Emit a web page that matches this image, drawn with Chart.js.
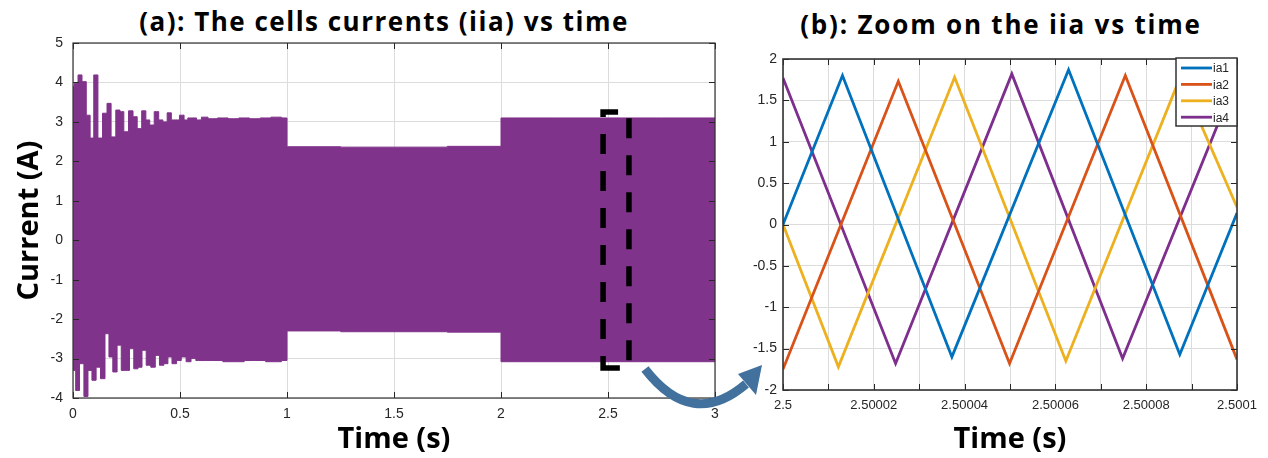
<!DOCTYPE html>
<html>
<head>
<meta charset="utf-8">
<script src="https://cdn.jsdelivr.net/npm/chart.js@4.4.1/dist/chart.umd.min.js"></script>
<style>
  body { margin: 0; background: #fff; width: 1268px; height: 458px; overflow: hidden; position: relative; }
  .title { position: absolute; font-family: "Open Sans", sans-serif; font-weight: 700; font-size: 26px; color: #000; white-space: nowrap; transform: translateX(-50%); }
  #wrapA { position: absolute; left: 0; top: 0; }
  #wrapB { position: absolute; left: 740px; top: 0; }
  #arrow { position: absolute; left: 0; top: 0; pointer-events: none; }
</style>
</head>
<body>
<div class="title" style="left:384px; top:3px; letter-spacing:1.5px">(a): The cells currents (iia) vs time</div>
<div class="title" style="left:1001px; top:6px; letter-spacing:1.8px">(b): Zoom on the iia vs time</div>
<div id="wrapA"><canvas id="chartA" width="740" height="458"></canvas></div>
<div id="wrapB"><canvas id="chartB" width="528" height="458"></canvas></div>
<svg id="arrow" width="1268" height="458">
  <path d="M 645 369 Q 692 430 746 384" fill="none" stroke="#41719c" stroke-width="9"/>
  <polygon points="762,365 738,374 756,395" fill="#41719c"/>
</svg>

<script>
// ---------- panel (a): envelope of the cell currents over 0..3 s ----------
var upperT = [0, 0.014, 0.033, 0.051, 0.073, 0.087, 0.107, 0.126, 0.150, 0.168, 0.188, 0.212, 0.227, 0.248,
  0.271, 0.290, 0.310, 0.332, 0.349, 0.368, 0.391, 0.410, 0.430, 0.450, 0.469, 0.487, 0.508, 0.530, 0.543,
  0.566, 0.588, 0.612, 0.650, 0.700, 0.750, 0.800, 0.850, 0.900, 0.950, 0.998, 1.002, 1.5, 1.998, 2.002, 2.5, 3.0];
var upperI = [3.90, 3.98, 4.19, 4.02, 3.17, 2.59, 4.19, 2.59, 3.22, 3.47, 2.62, 3.30, 3.26, 2.75,
  3.28, 3.13, 2.83, 3.28, 3.05, 2.92, 3.26, 3.05, 3.00, 3.23, 3.05, 3.05, 3.17, 3.05, 3.10,
  3.10, 3.05, 3.12, 3.08, 3.10, 3.08, 3.10, 3.08, 3.10, 3.12, 3.10, 2.37, 2.36, 2.38, 3.10, 3.10, 3.10];

var lowerT = [0, 0.005, 0.020, 0.041, 0.061, 0.079, 0.098, 0.118, 0.139, 0.160, 0.176, 0.196, 0.216, 0.235,
  0.254, 0.274, 0.294, 0.313, 0.332, 0.352, 0.375, 0.394, 0.414, 0.435, 0.452, 0.473, 0.495, 0.517, 0.540,
  0.563, 0.585, 0.650, 0.750, 0.850, 0.950, 0.998, 1.002, 1.5, 1.998, 2.002, 2.5, 3.0];
var lowerI = [-3.25, -3.30, -3.81, -3.13, -3.96, -3.30, -3.55, -3.22, -3.51, -2.37, -2.96, -3.34, -2.66, -3.30,
  -3.30, -2.75, -3.26, -3.22, -2.79, -3.17, -3.22, -2.92, -3.17, -3.13, -2.96, -3.13, -3.05, -2.96, -3.08,
  -3.00, -3.05, -3.05, -3.08, -3.05, -3.08, -3.05, -2.30, -2.32, -2.33, -3.08, -3.08, -3.08];

var xTickLabelsA = ['0', '0.5', '1', '1.5', '2', '2.5', '3'];
var yTickLabelsA = ['-4', '-3', '-2', '-1', '0', '1', '2', '3', '4', '5'];

// dashed window around the zoomed interval [t0, t1, iLow, iHigh]
var zoomWindow = [2.477, 2.598, -3.24, 3.25];

// ---------- panel (b): zoom, time in microseconds after 2.5 s ----------
var ia1T = [0, 13.1, 37.2, 62.9, 87.4, 100];
var ia1 = [0, 1.80, -1.60, 1.87, -1.57, 0.14];
var ia2T = [0, 25.4, 49.9, 75.4, 100];
var ia2 = [-1.75, 1.73, -1.68, 1.80, -1.63];
var ia3T = [0, 12.2, 37.8, 62.3, 87.5, 100];
var ia3 = [0, -1.72, 1.78, -1.65, 1.78, 0.21];
var ia4T = [0, 24.8, 50.4, 74.8, 100];
var ia4 = [1.77, -1.68, 1.82, -1.62, 1.78];

var seriesNames = ['ia1', 'ia2', 'ia3', 'ia4'];
var seriesColors = ['#0072bd', '#d95319', '#edb120', '#7e2f8e'];

var xTickLabelsB = ['2.5', '', '2.50002', '', '2.50004', '', '2.50006', '', '2.50008', '', '2.5001'];
var yTickLabelsB = ['-2', '-1.5', '-1', '-0.5', '0', '0.5', '1', '1.5', '2'];

function toPoints(xs, ys) {
  return xs.map(function(x, i) { return { x: x, y: ys[i] }; });
}

// frame around the plot area plus inward tick marks (MATLAB look)
var boxTicks = {
  id: 'boxTicks',
  afterDraw: function(chart, args, opts) {
    var ctx = chart.ctx, a = chart.chartArea, x = chart.scales.x, y = chart.scales.y;
    ctx.save();
    ctx.strokeStyle = '#262626';
    ctx.lineWidth = 1;
    ctx.beginPath();
    x.ticks.forEach(function(t) {
      var px = Math.round(x.getPixelForValue(t.value)) + 0.5;
      ctx.moveTo(px, a.top); ctx.lineTo(px, a.top + opts.len);
      ctx.moveTo(px, a.bottom); ctx.lineTo(px, a.bottom - opts.len);
    });
    y.ticks.forEach(function(t) {
      var py = Math.round(y.getPixelForValue(t.value)) + 0.5;
      ctx.moveTo(a.left, py); ctx.lineTo(a.left + opts.len, py);
      ctx.moveTo(a.right, py); ctx.lineTo(a.right - opts.len, py);
    });
    ctx.stroke();
    ctx.lineWidth = opts.frame;
    ctx.strokeStyle = '#333';
    ctx.strokeRect(a.left, a.top, a.width, a.height);
    ctx.restore();
  }
};

// black dashed window on panel (a)
var zoomBox = {
  id: 'zoomBox',
  afterDraw: function(chart) {
    var ctx = chart.ctx, x = chart.scales.x, y = chart.scales.y;
    var l = x.getPixelForValue(zoomWindow[0]), r = x.getPixelForValue(zoomWindow[1]);
    var b = y.getPixelForValue(zoomWindow[2]), t = y.getPixelForValue(zoomWindow[3]);
    ctx.save();
    ctx.strokeStyle = '#000';
    ctx.lineWidth = 5.5;
    ctx.setLineDash([20, 17]);
    ctx.lineDashOffset = 8;
    ctx.beginPath();
    ctx.moveTo(l, b);
    ctx.lineTo(l, t);
    ctx.lineTo(r, t);
    ctx.lineTo(r, b);
    ctx.closePath();
    ctx.stroke();
    ctx.restore();
  }
};

// legend box in the top right corner of panel (b)
var cornerLegend = {
  id: 'cornerLegend',
  afterDraw: function(chart) {
    var ctx = chart.ctx, a = chart.chartArea;
    var w = 61, h = 68, x0 = a.right - w, y0 = a.top - 1;
    ctx.save();
    ctx.fillStyle = '#fff';
    ctx.fillRect(x0, y0, w, h);
    ctx.strokeStyle = '#333';
    ctx.lineWidth = 1.5;
    ctx.strokeRect(x0, y0, w, h);
    ctx.font = '12px "Liberation Sans", Arial, sans-serif';
    ctx.textBaseline = 'middle';
    chart.data.datasets.forEach(function(ds, i) {
      var yy = y0 + 10 + i * 16.4;
      ctx.strokeStyle = ds.borderColor;
      ctx.lineWidth = 2.8;
      ctx.beginPath();
      ctx.moveTo(x0 + 5, yy); ctx.lineTo(x0 + 36, yy);
      ctx.stroke();
      ctx.fillStyle = '#262626';
      ctx.fillText(ds.label, x0 + 37, yy + 1);
    });
    ctx.restore();
  }
};

var tickFamily = '"Liberation Sans", Arial, sans-serif';
var axisTitleFont = { family: '"Open Sans", sans-serif', size: 29, weight: '700' };
var bandColor = '#80338b';

new Chart(document.getElementById('chartA'), {
  type: 'line',
  data: {
    datasets: [{
      label: 'upper',
      data: toPoints(upperT, upperI),
      stepped: 'middle',
      borderColor: bandColor,
      borderWidth: 1,
      backgroundColor: bandColor,
      fill: 'origin',
      pointRadius: 0
    }, {
      label: 'lower',
      data: toPoints(lowerT, lowerI),
      stepped: 'middle',
      borderColor: bandColor,
      borderWidth: 1,
      backgroundColor: bandColor,
      fill: { value: 0.08 },
      pointRadius: 0
    }]
  },
  options: {
    responsive: false,
    animation: false,
    layout: { padding: { top: 43, right: 25, left: 0, bottom: 0 } },
    plugins: { legend: { display: false }, tooltip: { enabled: false }, boxTicks: { len: 6, frame: 1.2 } },
    scales: {
      x: {
        type: 'linear', min: 0, max: 3,
        afterFit: function(s) { s.height = 60; },
        grid: { color: '#dcdcdc', drawTicks: false },
        border: { display: false },
        ticks: { stepSize: 0.5, padding: 8, color: '#262626', font: { family: tickFamily, size: 14 }, maxRotation: 0, autoSkip: false,
          callback: function(v, i) { return xTickLabelsA[i]; } },
        title: { display: true, text: 'Time (s)', color: '#000', font: axisTitleFont, padding: { top: 0, bottom: 1 } }
      },
      y: {
        min: -4, max: 5,
        afterFit: function(s) { s.width = 73; },
        grid: { color: '#dcdcdc', drawTicks: false },
        border: { display: false },
        ticks: { stepSize: 1, padding: 10, color: '#262626', font: { family: tickFamily, size: 14 },
          callback: function(v, i) { return yTickLabelsA[i]; } },
        title: { display: true, text: 'Current (A)', color: '#000', font: axisTitleFont, padding: { top: 12, bottom: 0 } }
      }
    }
  },
  plugins: [boxTicks, zoomBox]
});

var zoomSets = [[ia1T, ia1], [ia2T, ia2], [ia3T, ia3], [ia4T, ia4]].map(function(s, i) {
  return {
    label: seriesNames[i],
    data: toPoints(s[0], s[1]),
    borderColor: seriesColors[i],
    borderWidth: 2.8,
    pointRadius: 0,
    fill: false,
    tension: 0
  };
});

new Chart(document.getElementById('chartB'), {
  type: 'line',
  data: { datasets: zoomSets },
  options: {
    responsive: false,
    animation: false,
    layout: { padding: { top: 59, right: 31, left: 0, bottom: 0 } },
    plugins: { legend: { display: false }, tooltip: { enabled: false }, boxTicks: { len: 6, frame: 1.6 } },
    scales: {
      x: {
        type: 'linear', min: 0, max: 100,
        afterFit: function(s) { s.height = 68; },
        grid: { color: '#dcdcdc', drawTicks: false },
        border: { display: false },
        ticks: { stepSize: 10, padding: 8, color: '#262626', font: { family: tickFamily, size: 13 }, maxRotation: 0, autoSkip: false,
          callback: function(v, i) { return xTickLabelsB[i]; } },
        title: { display: true, text: 'Time (s)', color: '#000', font: axisTitleFont, padding: { top: 0, bottom: 1 } }
      },
      y: {
        min: -2, max: 2,
        afterFit: function(s) { s.width = 43; },
        grid: { color: '#dcdcdc', drawTicks: false },
        border: { display: false },
        ticks: { stepSize: 0.5, padding: 6, color: '#262626', font: { family: tickFamily, size: 14 },
          callback: function(v, i) { return yTickLabelsB[i]; } }
      }
    }
  },
  plugins: [boxTicks, cornerLegend]
});
</script>
</body>
</html>
